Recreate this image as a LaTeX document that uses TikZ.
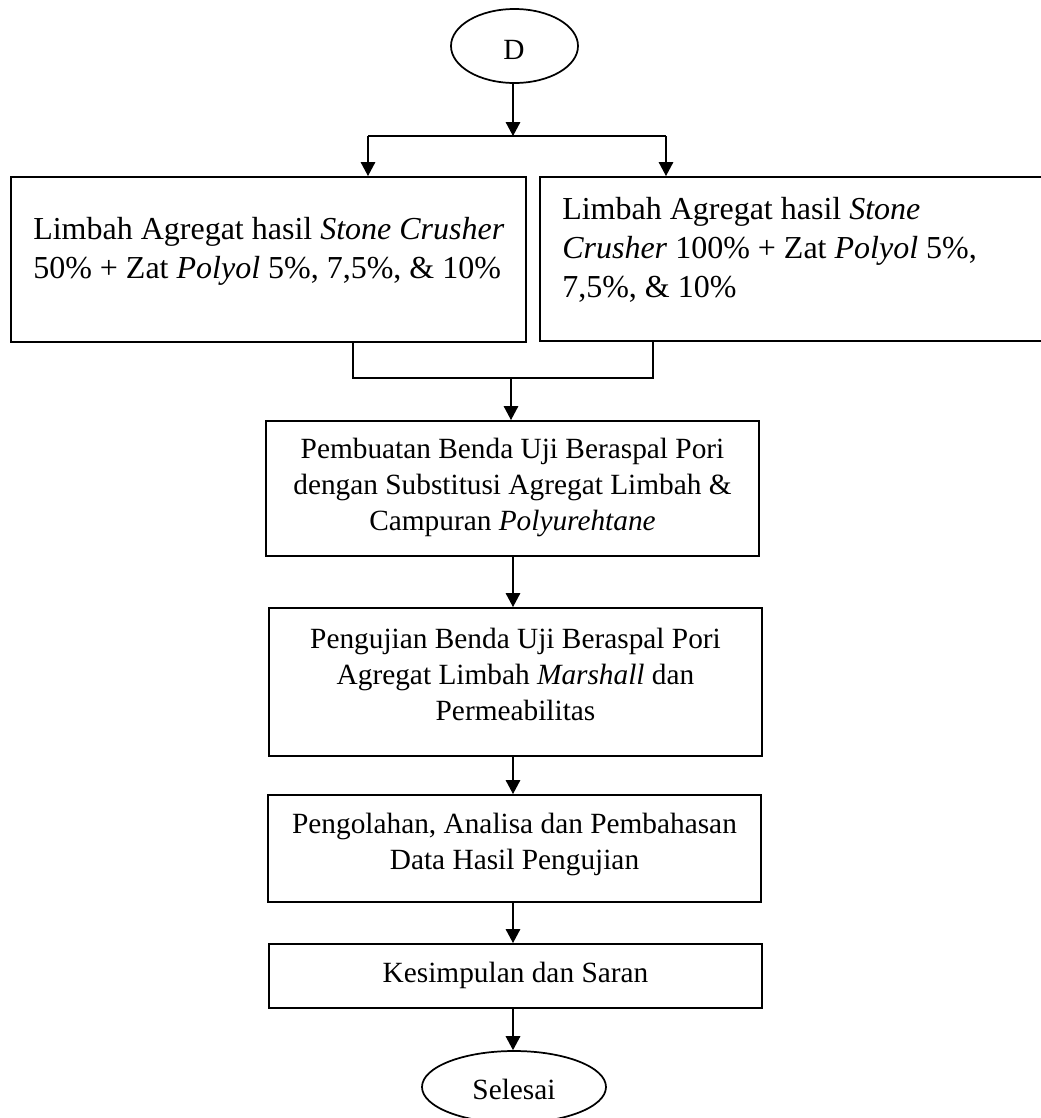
\documentclass[tikz,border=0pt]{standalone}
\usepackage{fontspec}
\setmainfont{Liberation Serif}
\usetikzlibrary{arrows.meta,shapes.geometric}
\begin{document}
\begin{tikzpicture}[x=0.75pt,y=-0.75pt,
  box/.style={draw, line width=1.5pt, rectangle, inner sep=0pt},
  oval/.style={draw, line width=1.3pt, ellipse, inner sep=0pt},
  conn/.style={line width=0.8pt},
  arr/.style={line width=0.8pt, -{Triangle[length=10.5pt,width=11pt]}},
  txtbig/.style={inner sep=0pt, font=\fontsize{24pt}{29.25pt}\selectfont},
  txtmid/.style={inner sep=0pt, font=\fontsize{22pt}{27pt}\selectfont}
]
\useasboundingbox (0,0) rectangle (1041,1118);

% shapes
\node[oval, minimum width=127*0.75pt, minimum height=74*0.75pt] (D) at (514.5,46) {};
\node[box, minimum width=515*0.75pt, minimum height=165*0.75pt] (b1) at (268.5,259.5) {};
\node[box, minimum width=508*0.75pt, minimum height=164*0.75pt] (b2) at (794,259) {};
\node[box, minimum width=493*0.75pt, minimum height=135*0.75pt] (b3) at (512.5,488.5) {};
\node[box, minimum width=493*0.75pt, minimum height=148*0.75pt] (b4) at (515.5,682) {};
\node[box, minimum width=493*0.75pt, minimum height=107*0.75pt] (b5) at (514.5,848.5) {};
\node[box, minimum width=493*0.75pt, minimum height=64*0.75pt] (b6) at (515.5,976) {};
\node[oval, minimum width=184*0.75pt, minimum height=72*0.75pt] (S) at (514,1087) {};

% texts (base anchor = baseline of the last line)
\node[txtmid, anchor=base] (tD) at (514,59) {D};
\node[txtbig, anchor=base west, align=left] (t1) at (33,278)
  {Limbah Agregat hasil \textit{Stone Crusher}\\50\% + Zat \textit{Polyol} 5\%, 7,5\%, \& 10\%};
\node[txtbig, anchor=base west, align=left] (t2) at (562,297)
  {Limbah Agregat hasil \textit{Stone}\\\textit{Crusher} 100\% + Zat \textit{Polyol} 5\%,\\7,5\%, \& 10\%};
\node[txtmid, anchor=base, align=center] (t3) at (512.5,530)
  {Pembuatan Benda Uji Beraspal Pori\\dengan Substitusi Agregat Limbah \&\\Campuran \textit{Polyurehtane}};
\node[txtmid, anchor=base, align=center] (t4) at (515.5,720)
  {Pengujian Benda Uji Beraspal Pori\\Agregat Limbah \textit{Marshall} dan\\Permeabilitas};
\node[txtmid, anchor=base, align=center] (t5) at (514.5,869)
  {Pengolahan, Analisa dan Pembahasan\\Data Hasil Pengujian};
\node[txtmid, anchor=base] (t6) at (515.5,982) {Kesimpulan dan Saran};
\node[txtmid, anchor=base] (tS) at (514,1099) {Selesai};

% connectors
\coordinate (sp) at (513,136);
\coordinate (sl) at (368,136);
\coordinate (sr) at (666,136);
\draw[arr] (D.south -| sp) -- (sp);
\draw[conn] (sl) -- (sr);
\draw[arr] (sl) -- (sl |- b1.north);
\draw[arr] (sr) -- (sr |- b2.north);

\coordinate (ml) at (353,378);
\coordinate (mr) at (653,378);
\coordinate (mm) at (511,378);
\draw[conn] (b1.south -| ml) -- (ml) -- (mr) -- (b2.south -| mr);
\draw[arr] (mm) -- (mm |- b3.north);

\coordinate (ax) at (513,0);
\draw[arr] (b3.south -| ax) -- (b4.north -| ax);
\draw[arr] (b4.south -| ax) -- (b5.north -| ax);
\draw[arr] (b5.south -| ax) -- (b6.north -| ax);
\draw[arr] (b6.south -| ax) -- (S.north -| ax);
\end{tikzpicture}
\end{document}
